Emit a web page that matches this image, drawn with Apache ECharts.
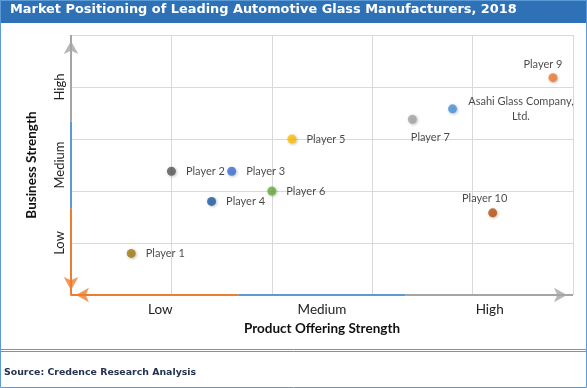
<!DOCTYPE html>
<html><head><meta charset="utf-8">
<script src="https://cdn.jsdelivr.net/npm/echarts@6/dist/echarts.min.js"></script>
<style>html,body{margin:0;padding:0;background:#fff}#c{width:587px;height:388px}</style>
</head><body><div id="c"></div>
<script>
const players = ['Player 1','Player 2','Player 3','Player 4','Player 5','Player 6','Player 7','Asahi Glass Company,\nLtd.','Player 9','Player 10'];
const productStrength = [0.6, 1.0, 1.6, 1.4, 2.2, 2.0, 3.4, 3.8, 4.8, 4.2];
const businessStrength = [0.8, 2.38, 2.38, 1.8, 3.0, 2.0, 3.38, 3.58, 4.18, 1.58];
const colors = ['#A07A0C','#595959','#3D6FD1','#1B5BA0','#FFC000','#6AAE3C','#A5A5A5','#4A91DA','#EE7B2C','#B8500D'];
const levelNames = ['Low','Medium','High'];
const xLevelPos = [0.89, 2.5, 4.17];
const yLevelPos = [1, 2.5, 4];

const labelFont = 'Lato';
const labelPos = [
  {position:'right', distance:10},
  {position:'right', distance:10},
  {position:'right', distance:10},
  {position:'right', distance:10},
  {position:'right', distance:10},
  {position:'right', distance:10},
  {position:'bottom', distance:8, offset:[18,0]},
  {position:'right', distance:12, align:'center', offset:[52,0], lineHeight:15},
  {position:'top', distance:3, offset:[-10,0]},
  {position:'top', distance:4, offset:[-8,0]}
];

const data = players.map((p,i)=>({
  name:p, value:[productStrength[i], businessStrength[i]],
  itemStyle:{color:colors[i]},
  label:Object.assign({show:true, formatter:'{b}', color:'#1a1a1a', fontFamily:labelFont, fontSize:11}, labelPos[i])
}));

const orange='#ED7D31', blue='#5B9BD5', gray='#A5A5A5';
const t=5/3;
function axisLine(color, pts){
  return {type:'line', data:pts, symbol:'none', clip:false, silent:true, connectNulls:false,
    lineStyle:{color:color, width:2}, itemStyle:{color:color}, z:3};
}
function arrow(color, pt, rot, off){
  return {type:'scatter', data:[pt], symbol:'arrow', symbolSize:[11,13], symbolRotate:rot, symbolOffset:off,
    clip:false, silent:true, itemStyle:{color:color}, z:4};
}

const chart = echarts.init(document.getElementById('c'), null, {renderer:'canvas'});
chart.setOption({
  animation:false,
  grid:{left:71, right:14, top:35, bottom:93},
  graphic:[
    {type:'rect', shape:{x:0,y:0,width:587,height:23}, style:{fill:'#2E71B6'}},
    {type:'text', left:10, top:3, style:{text:'Market Positioning of Leading Automotive Glass Manufacturers, 2018', fill:'#fff', font:'bold 12.9px "DejaVu Sans"'}},
    {type:'rect', shape:{x:0.5,y:0.5,width:586,height:387}, style:{fill:'none', stroke:'#5B9BD5', lineWidth:1}},
    {type:'line', shape:{x1:0,y1:349.5,x2:587,y2:349.5}, style:{stroke:'#5B9BD5', lineWidth:1}},
    {type:'line', shape:{x1:0,y1:351.5,x2:587,y2:351.5}, style:{stroke:'#5B9BD5', lineWidth:1}},
    {type:'text', left:4, top:368, style:{text:'Source: Credence Research Analysis', fill:'#24324F', font:'bold 9.4px "DejaVu Sans"'}}
  ],
  xAxis:{type:'value', min:0, max:5, interval:1,
    name:'Product Offering Strength', nameLocation:'middle', nameGap:21,
    nameTextStyle:{fontFamily:labelFont, fontWeight:'bold', fontSize:13.5, color:'#111'},
    axisLine:{show:false}, axisTick:{show:false},
    splitLine:{show:true, lineStyle:{color:'#D9D9D9'}},
    axisLabel:{customValues:xLevelPos, margin:8, fontFamily:labelFont, fontSize:13.5, color:'#222',
      formatter:(v)=>levelNames[xLevelPos.indexOf(v)] ?? ''}
  },
  yAxis:{type:'value', min:0, max:5, interval:1,
    name:'Business Strength', nameLocation:'middle', nameGap:32, nameRotate:90,
    nameTextStyle:{fontFamily:labelFont, fontWeight:'bold', fontSize:13.5, color:'#111'},
    axisLine:{show:false}, axisTick:{show:false},
    splitLine:{show:true, lineStyle:{color:'#D9D9D9'}},
    axisLabel:{customValues:yLevelPos, rotate:90, margin:5, fontFamily:labelFont, fontSize:13, color:'#222',
      formatter:(v)=>levelNames[yLevelPos.indexOf(v)] ?? ''}
  },
  series:[
    axisLine(orange, [[t,0],[0,0],[0,t]]),
    axisLine(blue, [[t,0],[2*t,0],'-',[0,t],[0,2*t]]),
    axisLine(gray, [[2*t,0],[5,0],'-',[0,2*t],[0,5]]),
    arrow(orange, [0,0], 90, [5,0]),
    arrow(orange, [0,0], 180, [0,-5]),
    arrow(gray, [5,0], -90, [-6,0]),
    arrow(gray, [0,5], 0, [0,6]),
    {type:'scatter', symbolSize:9, data:data, clip:false, z:5,
     itemStyle:{shadowBlur:3, shadowColor:'rgba(0,0,0,0.3)', shadowOffsetX:1, shadowOffsetY:1}}
  ]
});
</script></body></html>
